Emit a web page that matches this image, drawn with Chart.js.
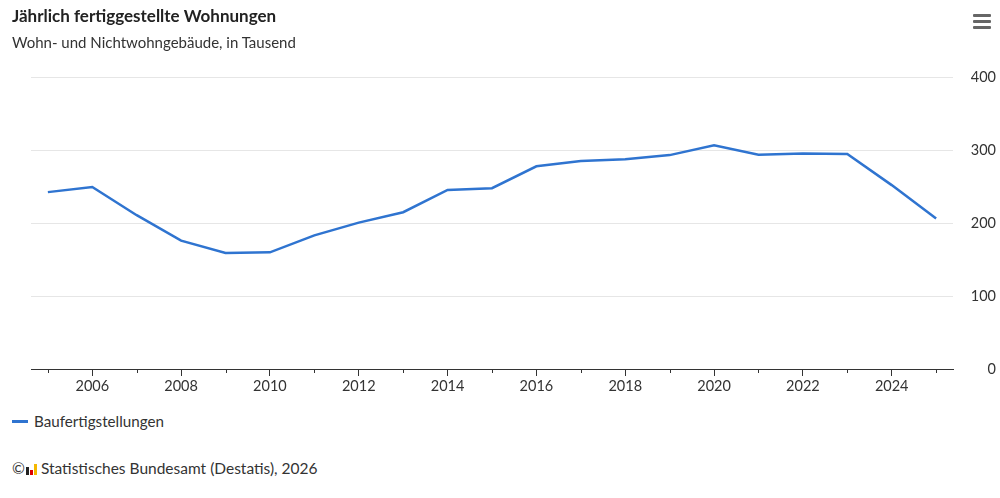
<!DOCTYPE html>
<html>
<head>
<meta charset="utf-8">
<script src="https://cdn.jsdelivr.net/npm/chart.js@4"></script>
<style>
  body { margin: 0; background: #fff; font-family: Lato, 'Noto Sans', sans-serif; color: #333; }
  .wrap { position: relative; width: 1000px; height: 498px; overflow: hidden; }
  .title { position: absolute; left: 12px; top: 5px; font-size: 17px; font-weight: bold; color: #222; }
  .subtitle { position: absolute; left: 12px; top: 33px; font-size: 15px; color: #333; }
  .menu { position: absolute; left: 973px; top: 14px; width: 18px; }
  .menu div { height: 3px; background: #666; margin-bottom: 3px; border-radius: 1px; }
  canvas { position: absolute; left: 0; top: 0; }
  .legend { position: absolute; left: 12px; top: 412px; font-size: 15.2px; color: #333; }
  .legend span.line { display: inline-block; width: 16px; height: 3px; background: #2f74d0; vertical-align: middle; margin-right: 6px; position: relative; top: -2px; }
  .credit { position: absolute; left: 12px; top: 459px; font-size: 15.5px; color: #333; }
  .logo { display: inline-block; width: 12px; height: 11px; position: relative; top: 1px; margin: 0 3px 0 1px; }
  .logo i { position: absolute; bottom: 0; width: 3px; }
</style>
</head>
<body>
<div class="wrap">
  <canvas id="chart" width="1000" height="399"></canvas>
  <div class="title">Jährlich fertiggestellte Wohnungen</div>
  <div class="subtitle">Wohn- und Nichtwohngebäude, in Tausend</div>
  <div class="menu"><div></div><div></div><div></div></div>
  <div class="legend"><span class="line"></span>Baufertigstellungen</div>
  <div class="credit">©<span class="logo"><i style="left:0;height:8px;background:#222"></i><i style="left:4px;height:5px;background:#d00"></i><i style="left:8px;height:11px;background:#f5b800"></i></span>Statistisches Bundesamt (Destatis), 2026</div>
</div>
<script>
// Daten
const years = [2005, 2006, 2007, 2008, 2009, 2010, 2011, 2012, 2013, 2014, 2015,
               2016, 2017, 2018, 2019, 2020, 2021, 2022, 2023, 2024, 2025];
const fertigstellungen = [242.3, 249.4, 210.7, 175.9, 159.0, 159.8, 183.1, 200.5, 214.8, 245.3, 247.7,
                          277.7, 284.8, 287.4, 293.0, 306.4, 293.4, 295.3, 294.4, 251.9, 206.0];
const yTicks = [0, 100, 200, 300, 400];

// kurze Striche fuer ungerade Jahre
const minorTicks = {
  id: 'minorTicks',
  afterDraw(chart) {
    const x = chart.scales.x;
    const c = chart.ctx;
    c.save();
    c.strokeStyle = '#333';
    c.lineWidth = 1;
    years.forEach(yr => {
      if (yr % 2 === 0) return;
      const px = Math.round(x.getPixelForValue(yr)) + 0.5;
      c.beginPath();
      c.moveTo(px, x.top);
      c.lineTo(px, x.top + 4);
      c.stroke();
    });
    c.restore();
  }
};

const ctx = document.getElementById('chart').getContext('2d');

new Chart(ctx, {
  type: 'line',
  data: {
    datasets: [{
      label: 'Baufertigstellungen',
      data: years.map((yr, i) => ({ x: yr, y: fertigstellungen[i] })),
      borderColor: '#2f74d0',
      borderWidth: 2.5,
      pointRadius: 0,
      tension: 0,
      fill: false
    }]
  },
  options: {
    responsive: false,
    devicePixelRatio: 1,
    animation: false,
    layout: { padding: { left: 31, top: 77, right: 4, bottom: 0 } },
    plugins: {
      legend: { display: false },
      tooltip: { enabled: false }
    },
    scales: {
      x: {
        type: 'linear',
        min: 2004.62,
        max: 2025.38,
        afterFit: s => { s.height = 30; },
        afterBuildTicks: s => { s.ticks = years.map(v => ({ value: v })); },
        ticks: {
          autoSkip: false,
          maxRotation: 0,
          padding: 2,
          color: '#333',
          font: { family: 'Lato, sans-serif', size: 14.5 },
          callback: v => (v % 2 === 0 ? String(v) : '')
        },
        grid: {
          drawOnChartArea: false,
          drawTicks: true,
          tickLength: 7,
          tickColor: c => (c.tick && c.tick.value % 2 === 0 ? '#333' : 'rgba(0,0,0,0)')
        },
        border: { display: true, color: '#333', width: 1 }
      },
      y: {
        position: 'right',
        min: 0,
        max: 400,
        afterFit: s => { s.width = 43; },
        afterBuildTicks: s => { s.ticks = yTicks.map(v => ({ value: v })); },
        ticks: {
          crossAlign: 'far',
          color: '#333',
          font: { family: 'Lato, sans-serif', size: 14.5 }
        },
        grid: { color: '#e6e6e6', drawTicks: false },
        border: { display: false }
      }
    }
  },
  plugins: [minorTicks]
});
</script>
</body>
</html>
